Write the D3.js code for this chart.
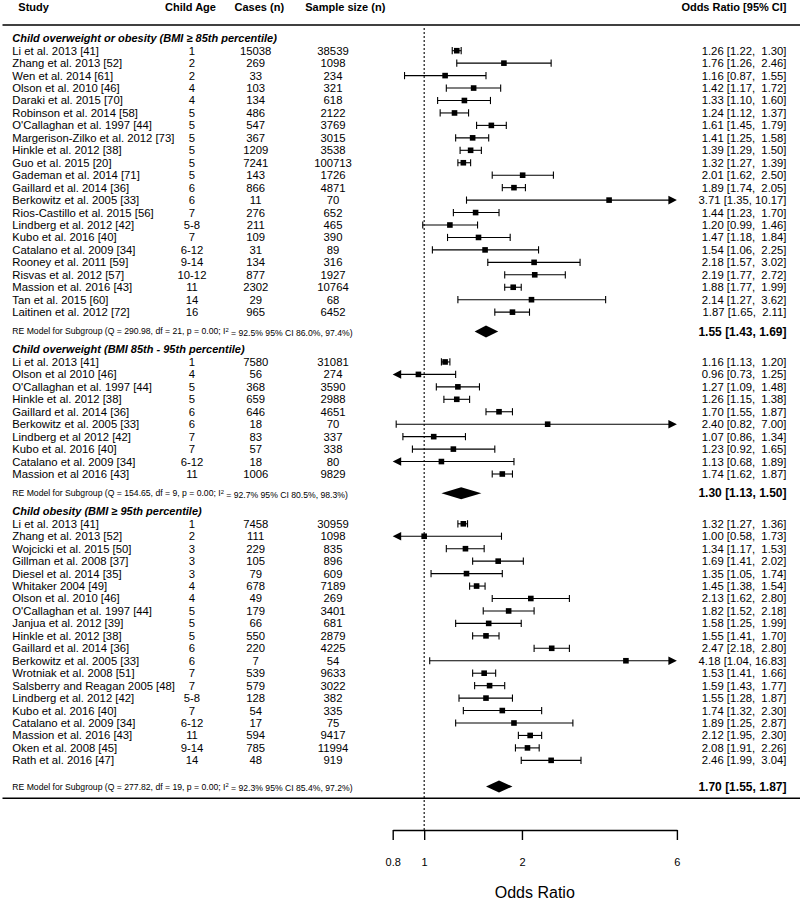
<!DOCTYPE html>
<html>
<head>
<meta charset="utf-8">
<script src="https://cdn.jsdelivr.net/npm/d3@7"></script>
<style>
  html, body { margin: 0; padding: 0; background: #fff; }
  svg { display: block; font-family: "Liberation Sans", Arial, sans-serif; }
  text { white-space: pre; fill: #000; }
</style>
</head>
<body>
<svg id="chart" width="800" height="900"></svg>
<script>
// ---------------- DATA ----------------
const columnHeaders = ["Study", "Child Age", "Cases (n)", "Sample size (n)", "Odds Ratio [95% CI]"];
const groupTitles = [
  "Child overweight or obesity (BMI \u2265 85th percentile)",
  "Child overweight (BMI 85th - 95th percentile)",
  "Child obesity (BMI \u2265 95th percentile)"
];
// [study, child age, cases, sample size, OR, lower, upper]
const group1Rows = [
  ["Li et al. 2013 [41]", "1", 15038, 38539, 1.26, 1.22, 1.30],
  ["Zhang et al. 2013 [52]", "2", 269, 1098, 1.76, 1.26, 2.46],
  ["Wen et al. 2014 [61]", "2", 33, 234, 1.16, 0.87, 1.55],
  ["Olson et al. 2010 [46]", "4", 103, 321, 1.42, 1.17, 1.72],
  ["Daraki et al. 2015 [70]", "4", 134, 618, 1.33, 1.10, 1.60],
  ["Robinson et al. 2014 [58]", "5", 486, 2122, 1.24, 1.12, 1.37],
  ["O'Callaghan et al. 1997 [44]", "5", 547, 3769, 1.61, 1.45, 1.79],
  ["Margerison-Zilko et al. 2012 [73]", "5", 367, 3015, 1.41, 1.25, 1.58],
  ["Hinkle et al. 2012 [38]", "5", 1209, 3538, 1.39, 1.29, 1.50],
  ["Guo et al. 2015 [20]", "5", 7241, 100713, 1.32, 1.27, 1.39],
  ["Gademan et al. 2014 [71]", "5", 143, 1726, 2.01, 1.62, 2.50],
  ["Gaillard et al. 2014 [36]", "6", 866, 4871, 1.89, 1.74, 2.05],
  ["Berkowitz et al. 2005 [33]", "6", 11, 70, 3.71, 1.35, 10.17],
  ["Rios-Castillo et al. 2015 [56]", "7", 276, 652, 1.44, 1.23, 1.70],
  ["Lindberg et al. 2012 [42]", "5-8", 211, 465, 1.20, 0.99, 1.46],
  ["Kubo et al. 2016 [40]", "7", 109, 390, 1.47, 1.18, 1.84],
  ["Catalano et al. 2009 [34]", "6-12", 31, 89, 1.54, 1.06, 2.25],
  ["Rooney et al. 2011 [59]", "9-14", 134, 316, 2.18, 1.57, 3.02],
  ["Risvas et al. 2012 [57]", "10-12", 877, 1927, 2.19, 1.77, 2.72],
  ["Massion et al. 2016 [43]", "11", 2302, 10764, 1.88, 1.77, 1.99],
  ["Tan et al. 2015 [60]", "14", 29, 68, 2.14, 1.27, 3.62],
  ["Laitinen et al. 2012 [72]", "16", 965, 6452, 1.87, 1.65, 2.11]
];
const group2Rows = [
  ["Li et al. 2013 [41]", "1", 7580, 31081, 1.16, 1.13, 1.20],
  ["Olson et al 2010 [46]", "4", 56, 274, 0.96, 0.73, 1.25],
  ["O'Callaghan et al. 1997 [44]", "5", 368, 3590, 1.27, 1.09, 1.48],
  ["Hinkle et al. 2012 [38]", "5", 659, 2988, 1.26, 1.15, 1.38],
  ["Gaillard et al. 2014 [36]", "6", 646, 4651, 1.70, 1.55, 1.87],
  ["Berkowitz et al. 2005 [33]", "6", 18, 70, 2.40, 0.82, 7.00],
  ["Lindberg et al 2012 [42]", "7", 83, 337, 1.07, 0.86, 1.34],
  ["Kubo et al. 2016 [40]", "7", 57, 338, 1.23, 0.92, 1.65],
  ["Catalano et al. 2009 [34]", "6-12", 18, 80, 1.13, 0.68, 1.89],
  ["Massion et al 2016 [43]", "11", 1006, 9829, 1.74, 1.62, 1.87]
];
const group3Rows = [
  ["Li et al. 2013 [41]", "1", 7458, 30959, 1.32, 1.27, 1.36],
  ["Zhang et al. 2013 [52]", "2", 111, 1098, 1.00, 0.58, 1.73],
  ["Wojcicki et al. 2015 [50]", "3", 229, 835, 1.34, 1.17, 1.53],
  ["Gillman et al. 2008 [37]", "3", 105, 896, 1.69, 1.41, 2.02],
  ["Diesel et al. 2014 [35]", "3", 79, 609, 1.35, 1.05, 1.74],
  ["Whitaker 2004 [49]", "4", 678, 7189, 1.45, 1.38, 1.54],
  ["Olson et al. 2010 [46]", "4", 49, 269, 2.13, 1.62, 2.80],
  ["O'Callaghan et al. 1997 [44]", "5", 179, 3401, 1.82, 1.52, 2.18],
  ["Janjua et al. 2012 [39]", "5", 66, 681, 1.58, 1.25, 1.99],
  ["Hinkle et al. 2012 [38]", "5", 550, 2879, 1.55, 1.41, 1.70],
  ["Gaillard et al. 2014 [36]", "6", 220, 4225, 2.47, 2.18, 2.80],
  ["Berkowitz et al. 2005 [33]", "6", 7, 54, 4.18, 1.04, 16.83],
  ["Wrotniak et al. 2008 [51]", "7", 539, 9633, 1.53, 1.41, 1.66],
  ["Salsberry and Reagan 2005 [48]", "7", 579, 3022, 1.59, 1.43, 1.77],
  ["Lindberg et al. 2012 [42]", "5-8", 128, 382, 1.55, 1.28, 1.87],
  ["Kubo et al. 2016 [40]", "7", 54, 335, 1.74, 1.32, 2.30],
  ["Catalano et al. 2009 [34]", "6-12", 17, 75, 1.89, 1.25, 2.87],
  ["Massion et al. 2016 [43]", "11", 594, 9417, 2.12, 1.95, 2.30],
  ["Oken et al. 2008 [45]", "9-14", 785, 11994, 2.08, 1.91, 2.26],
  ["Rath et al. 2016 [47]", "14", 48, 919, 2.46, 1.99, 3.04]
];
// summary [OR, lower, upper]
const summaries = [[1.55, 1.43, 1.69], [1.30, 1.13, 1.50], [1.70, 1.55, 1.87]];
// heterogeneity [Q, df, p, I2, I2 lower, I2 upper]
const heterogeneity = [
  ["290.98", "21", "0.00", "92.5", "86.0", "97.4"],
  ["154.65", "9", "0.00", "92.7", "80.5", "98.3"],
  ["277.82", "19", "0.00", "92.3", "85.4", "97.2"]
];
const axisTicks = [0.8, 1, 2, 6];
const axisDomain = [0.8, 6];
const axisTitle = "Odds Ratio";

// ---------------- LAYOUT ----------------
const svg = d3.select("#chart");
const FONT = 11.3;
const x = d3.scaleLog().domain(axisDomain).range([392.7, 676.9]);
const rowUnit = 12.45;
const y = d3.scaleLinear().domain([0, 1]).range([50.7, 50.7 + rowUnit]);

const groups = [group1Rows, group2Rows, group3Rows];
const summaryGap = [1.55, 1.55, 2.1];
let pos = -1;
const layout = [];
groups.forEach((rows, gi) => {
  const g = { title: groupTitles[gi], titlePos: pos, rows: [], sum: summaries[gi], het: heterogeneity[gi] };
  pos += 1;
  rows.forEach(r => { g.rows.push({ r, pos }); pos += 1; });
  const last = pos - 1;
  g.sumPos = last + summaryGap[gi];
  pos = last + 3;
  layout.push(g);
});
const bottomLinePos = layout[2].sumPos + 0.95;

const colAge = 192, colCases = 255.7, colN = 333, colLeft = 12.3, colRight = 786.5;

// header
const hdr = svg.append("g").attr("font-weight", "bold").attr("font-size", 11);
hdr.append("text").attr("x", 18.3).attr("y", 7).attr("dy", "0.35em").text(columnHeaders[0]);
hdr.append("text").attr("x", 190.5).attr("y", 7).attr("dy", "0.35em").attr("text-anchor", "middle").text(columnHeaders[1]);
hdr.append("text").attr("x", 259.3).attr("y", 7).attr("dy", "0.35em").attr("text-anchor", "middle").text(columnHeaders[2]);
hdr.append("text").attr("x", 345.3).attr("y", 7).attr("dy", "0.35em").attr("text-anchor", "middle").text(columnHeaders[3]);
hdr.append("text").attr("x", colRight).attr("y", 7.5).attr("dy", "0.35em").attr("text-anchor", "end").text(columnHeaders[4]);

svg.append("line").attr("x1", 2.5).attr("x2", 800).attr("y1", 25).attr("y2", 25)
  .attr("stroke", "#000").attr("stroke-width", 1.6);
svg.append("line").attr("x1", 2.5).attr("x2", 800).attr("y1", y(bottomLinePos)).attr("y2", y(bottomLinePos))
  .attr("stroke", "#000").attr("stroke-width", 1.6);

// reference line at OR = 1
const axisY = 830;
svg.append("line").attr("x1", x(1)).attr("x2", x(1)).attr("y1", 28).attr("y2", axisY)
  .attr("stroke", "#000").attr("stroke-width", 1.1).attr("stroke-dasharray", "2,2");

const fmt = d3.format(".2f");
function ciLabel(o, l, h, summary) {
  const up = fmt(h);
  const sep = summary ? " " : (up.length < 5 ? "  " : " ");
  return fmt(o) + " [" + fmt(l) + "," + sep + up + "]";
}

const arrowLen = 8.5, arrowHalf = 4.3, capHalf = 3.6, sq = 5.6;
const [dMin, dMax] = axisDomain;

layout.forEach(g => {
  svg.append("text").attr("x", colLeft).attr("y", y(g.titlePos)).attr("dy", "0.35em")
    .attr("font-size", 11).attr("font-weight", "bold").attr("font-style", "italic").text(g.title);

  const rowsG = svg.append("g").selectAll("g").data(g.rows).join("g");
  rowsG.append("text").attr("x", colLeft).attr("y", d => y(d.pos)).attr("dy", "0.35em")
    .attr("font-size", FONT).text(d => d.r[0]);
  rowsG.append("text").attr("x", colAge).attr("y", d => y(d.pos)).attr("dy", "0.35em")
    .attr("text-anchor", "middle").attr("font-size", FONT).text(d => d.r[1]);
  rowsG.append("text").attr("x", colCases).attr("y", d => y(d.pos)).attr("dy", "0.35em")
    .attr("text-anchor", "middle").attr("font-size", FONT).text(d => d.r[2]);
  rowsG.append("text").attr("x", colN).attr("y", d => y(d.pos)).attr("dy", "0.35em")
    .attr("text-anchor", "middle").attr("font-size", FONT).text(d => d.r[3]);
  rowsG.append("text").attr("x", colRight).attr("y", d => y(d.pos)).attr("dy", "0.35em")
    .attr("text-anchor", "end").attr("font-size", FONT).text(d => ciLabel(d.r[4], d.r[5], d.r[6], false));

  // CI lines
  rowsG.each(function(d) {
    const sel = d3.select(this);
    const yy = y(d.pos);
    const lo = d.r[5], hi = d.r[6], est = d.r[4];
    const loClip = lo < dMin, hiClip = hi > dMax;
    const x1 = x(Math.max(lo, dMin)), x2 = x(Math.min(hi, dMax));
    sel.append("line").attr("x1", loClip ? x1 + arrowLen - 1 : x1).attr("x2", hiClip ? x2 - arrowLen + 1 : x2)
      .attr("y1", yy).attr("y2", yy).attr("stroke", "#000").attr("stroke-width", 1.1);
    if (!loClip) sel.append("line").attr("x1", x1).attr("x2", x1).attr("y1", yy - capHalf).attr("y2", yy + capHalf)
      .attr("stroke", "#000").attr("stroke-width", 1.1);
    else sel.append("path").attr("d", `M${x1},${yy}L${x1 + arrowLen},${yy - arrowHalf}L${x1 + arrowLen},${yy + arrowHalf}Z`).attr("fill", "#000");
    if (!hiClip) sel.append("line").attr("x1", x2).attr("x2", x2).attr("y1", yy - capHalf).attr("y2", yy + capHalf)
      .attr("stroke", "#000").attr("stroke-width", 1.1);
    else sel.append("path").attr("d", `M${x2},${yy}L${x2 - arrowLen},${yy - arrowHalf}L${x2 - arrowLen},${yy + arrowHalf}Z`).attr("fill", "#000");
    sel.append("rect").attr("x", x(est) - sq / 2).attr("y", yy - sq / 2).attr("width", sq).attr("height", sq).attr("fill", "#000");
  });

  // summary
  const ys = y(g.sumPos);
  const [so, sl, sh] = g.sum;
  svg.append("path")
    .attr("d", `M${x(sl)},${ys}L${x(so)},${ys - 6}L${x(sh)},${ys}L${x(so)},${ys + 6}Z`)
    .attr("fill", "#000");
  svg.append("text").attr("x", colRight).attr("y", ys).attr("dy", "0.35em").attr("text-anchor", "end")
    .attr("font-size", 12).attr("font-weight", "bold").text(ciLabel(so, sl, sh, true));
  const h = g.het;
  const t = svg.append("text").attr("x", colLeft).attr("y", ys).attr("dy", "0.35em").attr("font-size", 8.65);
  t.append("tspan").text(`RE Model for Subgroup (Q = ${h[0]}, df = ${h[1]}, p = ${h[2]}; I`);
  t.append("tspan").attr("dy", "-0.45em").attr("font-size", 5.8).text("2");
  t.append("tspan").attr("dy", "0.45em").text(` = ${h[3]}% 95% CI ${h[4]}%, ${h[5]}%)`);
});

// axis
const axis = d3.axisBottom(x).tickValues(axisTicks).tickFormat(d => String(d))
  .tickSize(10).tickSizeOuter(0).tickPadding(18);
const ag = svg.append("g").attr("transform", `translate(0,${axisY})`).call(axis);
ag.select(".domain").attr("stroke-width", 1.4);
ag.selectAll(".tick line").attr("stroke-width", 1.4);
ag.selectAll(".tick text").attr("font-size", 11).attr("font-family", "'Liberation Sans', Arial, sans-serif").attr("fill", "#000");

svg.append("text").attr("x", (x(dMin) + x(dMax)) / 2).attr("y", 892).attr("dy", "0.35em")
  .attr("text-anchor", "middle").attr("font-size", 16).text(axisTitle);
</script>
</body>
</html>
